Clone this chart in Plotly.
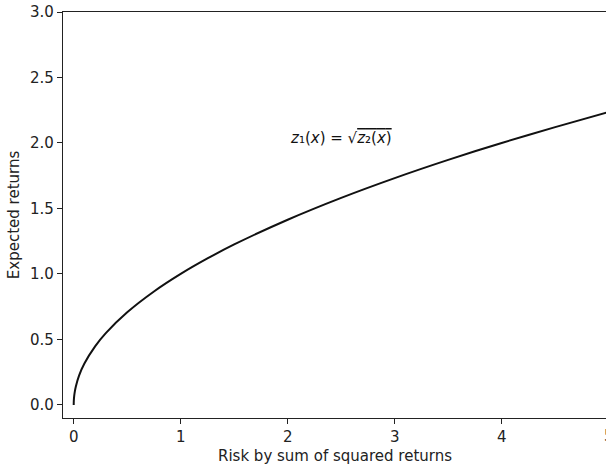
import plotly.graph_objects as go

# values
risk = [0, 0.001, 0.005, 0.01, 0.02, 0.05, 0.1, 0.2, 0.3, 0.5, 0.75, 1, 1.25, 1.5, 2, 2.5, 3, 3.5, 4, 4.5, 5]
expected = [0, 0.032, 0.071, 0.1, 0.141, 0.224, 0.316, 0.447, 0.548, 0.707, 0.866, 1.0, 1.118, 1.225,
            1.414, 1.581, 1.732, 1.871, 2.0, 2.121, 2.236]
x_ticks = [0, 1, 2, 3, 4]
y_ticks = [0.0, 0.5, 1.0, 1.5, 2.0, 2.5, 3.0]

FONT = "DejaVu Sans"
FS = 15
X_RANGE = [-0.1, 4.975]
fig = go.Figure()
fig.add_trace(go.Scatter(x=risk, y=expected, mode="lines",
                         line=dict(color="#111111", width=2, shape="spline", smoothing=0.8),
                         showlegend=False, hoverinfo="skip"))

fig.add_annotation(x=2, y=2.04, xref="x", yref="y", xanchor="left", yanchor="middle",
                   showarrow=False,
                   text="<i>z</i>₁(<i>x</i>) = √<span style='text-decoration:overline'><i>z</i>₂(<i>x</i>)</span>",
                   font=dict(family=FONT, size=15, color="#111111"))
# tick label at x=5, cut by the figure edge
fig.add_annotation(x=(5 - X_RANGE[0]) / (X_RANGE[1] - X_RANGE[0]), y=0, xref="paper", yref="paper",
                   xanchor="center", yanchor="top",
                   yshift=-7, showarrow=False, text="5",
                   font=dict(family=FONT, size=FS, color="#222222"))
# axis titles
fig.add_annotation(x=0.5, y=-0.0936, xref="paper", yref="paper", xanchor="center", yanchor="middle",
                   showarrow=False, text="Risk by sum of squared returns",
                   font=dict(family=FONT, size=FS, color="#222222"))
fig.add_annotation(x=-0.090, y=0.5, xref="paper", yref="paper", xanchor="center", yanchor="middle",
                   showarrow=False, text="Expected returns", textangle=-90,
                   font=dict(family=FONT, size=FS, color="#222222"))

fig.update_layout(
    width=606, height=468,
    margin=dict(l=63, r=0, t=12, b=50),
    plot_bgcolor="white", paper_bgcolor="white",
    font=dict(family=FONT, size=FS, color="#222222"),
    xaxis=dict(range=X_RANGE, tickvals=x_ticks, ticktext=[str(v) for v in x_ticks],
               automargin=False,
               showline=True, linecolor="#222222", linewidth=1.2, mirror=True,
               ticks="outside", ticklen=5, tickcolor="#222222", tickwidth=1.2,
               showgrid=False, zeroline=False),
    yaxis=dict(range=[-0.1, 3.0], tickvals=y_ticks, ticktext=[f"{v:.1f}" for v in y_ticks],
               automargin=False,
               showline=True, linecolor="#222222", linewidth=1.2, mirror=False,
               ticks="outside", ticklen=5, tickcolor="#222222", tickwidth=1.2,
               showgrid=False, zeroline=False),
)

fig.write_html("out.html", config={"displayModeBar": False},
               post_script="document.body.style.margin='0';document.body.style.overflow='hidden';")
